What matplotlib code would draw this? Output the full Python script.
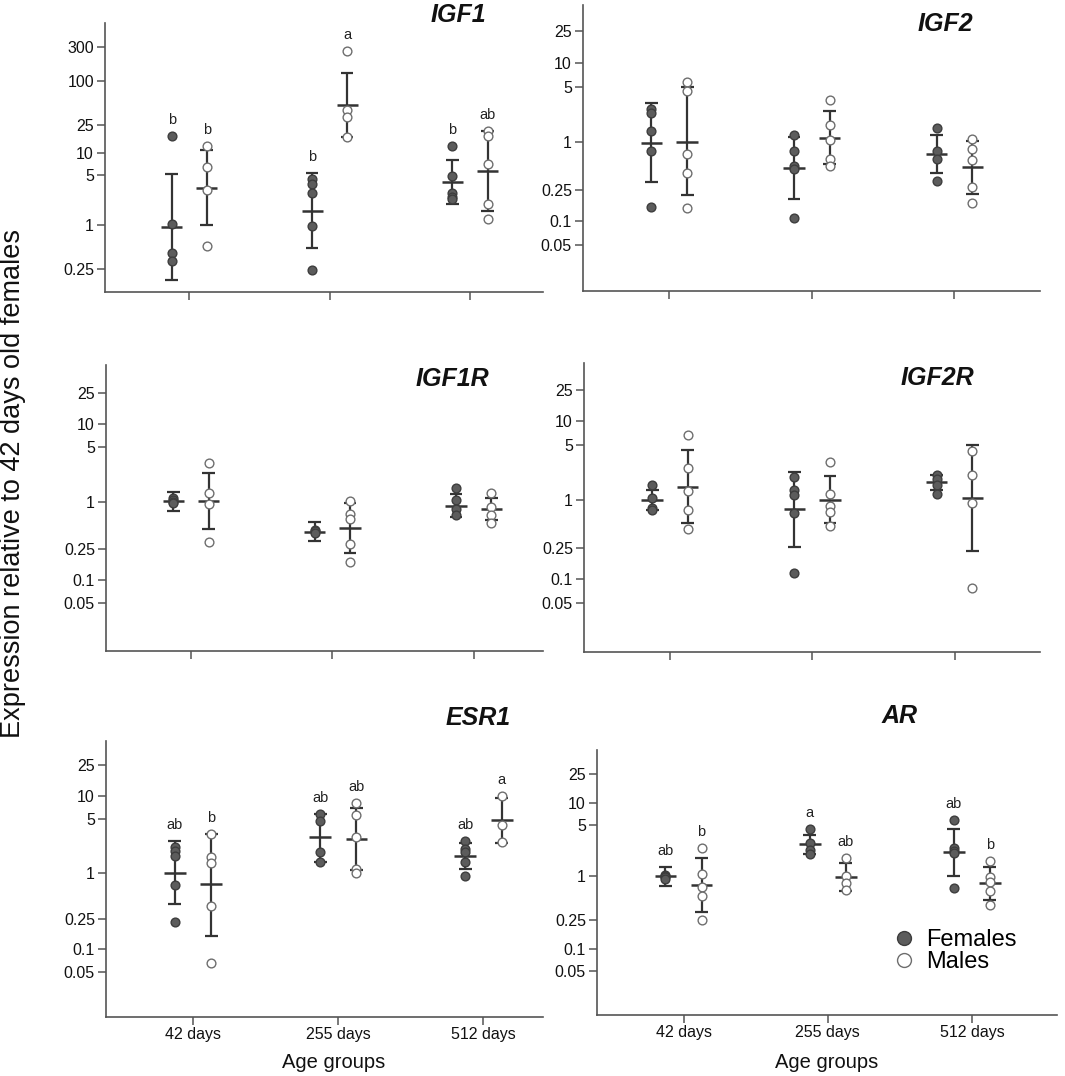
import numpy as np
import matplotlib
matplotlib.use('Agg')
import matplotlib.pyplot as plt
from matplotlib.lines import Line2D
from matplotlib.ticker import FixedLocator, NullLocator

plt.rcParams['font.family'] = ['Liberation Sans', 'DejaVu Sans']

ages = ['42 days', '255 days', '512 days']

# ---- IGF1 ----
igf1_fem_pts = [[17.4, 1.05, 0.42, 0.32], [4.4, 3.8, 2.8, 0.98, 0.24], [12.6, 4.9, 2.8, 2.5, 2.3]]
igf1_fem_mean = [0.95, 1.6, 4.0]
igf1_fem_lo = [0.176, 0.48, 1.98]
igf1_fem_hi = [5.2, 5.4, 8.1]
igf1_male_pts = [[12.6, 6.4, 3.1, 0.51], [264, 40, 32, 16.9], [20.6, 17.4, 7.1, 2.0, 1.21]]
igf1_male_mean = [3.3, 47, 5.7]
igf1_male_lo = [1.0, 16.9, 1.6]
igf1_male_hi = [11, 132, 20.6]
igf1_fem_letters = ['b', 'b', 'b']
igf1_male_letters = ['b', 'a', 'ab']

# ---- IGF2 ----
igf2_fem_pts = [[2.6, 2.3, 1.38, 0.77, 0.15], [1.23, 0.77, 0.50, 0.46, 0.11], [1.49, 0.77, 0.61, 0.32]]
igf2_fem_mean = [0.98, 0.47, 0.70]
igf2_fem_lo = [0.31, 0.19, 0.41]
igf2_fem_hi = [3.15, 1.16, 1.21]
igf2_male_pts = [[5.8, 4.47, 0.70, 0.40, 0.145], [3.4, 1.64, 1.05, 0.61, 0.50], [1.08, 0.81, 0.59, 0.27, 0.17]]
igf2_male_mean = [1.0, 1.13, 0.48]
igf2_male_lo = [0.21, 0.52, 0.22]
igf2_male_hi = [4.9, 2.44, 1.02]

# ---- IGF1R ----
igf1r_fem_pts = [[1.11, 1.05, 1.0, 0.96], [0.44, 0.42, 0.40], [1.50, 1.06, 0.81, 0.68]]
igf1r_fem_mean = [1.02, 0.41, 0.90]
igf1r_fem_lo = [0.77, 0.32, 0.65]
igf1r_fem_hi = [1.33, 0.55, 1.28]
igf1r_male_pts = [[3.2, 1.29, 0.94, 0.31], [1.02, 0.71, 0.61, 0.29, 0.17], [1.29, 0.87, 0.68, 0.53]]
igf1r_male_mean = [1.04, 0.46, 0.81]
igf1r_male_lo = [0.45, 0.22, 0.58]
igf1r_male_hi = [2.38, 0.96, 1.13]

# ---- IGF2R ----
igf2r_fem_pts = [[1.56, 1.08, 0.81, 0.75], [2.0, 1.35, 1.18, 0.70, 0.12], [2.07, 1.88, 1.56, 1.2]]
igf2r_fem_mean = [1.0, 0.78, 1.69]
igf2r_fem_lo = [0.75, 0.26, 1.35]
igf2r_fem_hi = [1.35, 2.3, 2.07]
igf2r_male_pts = [[6.8, 2.54, 1.33, 0.75, 0.43], [3.1, 1.2, 0.86, 0.72, 0.47], [4.25, 2.07, 0.93, 0.078]]
igf2r_male_mean = [1.49, 1.02, 1.08]
igf2r_male_lo = [0.51, 0.51, 0.226]
igf2r_male_hi = [4.34, 2.05, 5.0]

# ---- ESR1 ----
esr1_fem_pts = [[2.14, 1.9, 1.65, 0.68, 0.23], [5.8, 4.7, 1.88, 1.38], [2.61, 2.06, 1.86, 1.39, 0.91]]
esr1_fem_mean = [1.0, 2.89, 1.65]
esr1_fem_lo = [0.39, 1.38, 1.12]
esr1_fem_hi = [2.59, 5.8, 2.46]
esr1_male_pts = [[3.2, 1.58, 1.35, 0.37, 0.066], [8.2, 5.6, 2.89, 1.13, 0.98], [10, 4.14, 2.51]]
esr1_male_mean = [0.70, 2.75, 4.8]
esr1_male_lo = [0.15, 1.07, 2.46]
esr1_male_hi = [3.2, 7.0, 9.4]
esr1_fem_letters = ['ab', 'ab', 'ab']
esr1_male_letters = ['b', 'ab', 'a']

# ---- AR ----
ar_fem_pts = [[1.03, 1.0, 0.97, 0.93], [4.4, 2.83, 2.3, 2.0], [5.9, 2.42, 2.25, 2.07, 0.69]]
ar_fem_mean = [1.0, 2.77, 2.13]
ar_fem_lo = [0.74, 2.0, 1.0]
ar_fem_hi = [1.34, 3.72, 4.5]
ar_male_pts = [[2.47, 1.08, 0.72, 0.54, 0.25], [1.78, 1.0, 0.80, 0.65], [1.64, 0.97, 0.85, 0.64, 0.41]]
ar_male_mean = [0.76, 0.99, 0.80]
ar_male_lo = [0.33, 0.64, 0.48]
ar_male_hi = [1.78, 1.51, 1.36]
ar_fem_letters = ['ab', 'a', 'ab']
ar_male_letters = ['b', 'ab', 'b']

yticks_small = [0.05, 0.1, 0.25, 1, 5, 10, 25]
yticks_igf1 = [0.25, 1, 5, 10, 25, 100, 300]

W, H = 1065, 1076
fig = plt.figure(figsize=(W / 100, H / 100), dpi=100)

axis_col = '#555555'
bar_col = '#333333'
fem_face, fem_edge = '#5c5c5c', '#3d3d3d'
male_face, male_edge = 'white', '#6e6e6e'


def px_axes(l, r, t, b):
    return fig.add_axes([l / W, 1 - b / H, (r - l) / W, (b - t) / H])


def fmt(v):
    return f'{v:g}'


def draw_group(ax, xs, pts_list, mean, lo, hi, face, edge, letters):
    ax.vlines(xs, lo, hi, color=bar_col, lw=1.6, zorder=2)
    ax.hlines(lo, xs - 0.045, xs + 0.045, color=bar_col, lw=1.6, zorder=2)
    ax.hlines(hi, xs - 0.045, xs + 0.045, color=bar_col, lw=1.6, zorder=2)
    ax.hlines(mean, xs - 0.075, xs + 0.075, color=bar_col, lw=1.8, zorder=2)
    for x, pts in zip(xs, pts_list):
        ax.plot(np.full(len(pts), x), pts, 'o', ms=6.3, mfc=face, mec=edge,
                mew=1.0, zorder=3)
    if letters:
        for x, let, pts, h in zip(xs, letters, pts_list, hi):
            top = max(max(pts), h)
            ax.annotate(let, (x, top), xytext=(0, 11.5), textcoords='offset points',
                        ha='center', va='center', fontsize=10.5, color='#222222')


def panel(box, xlim, ylim, yticks, fem, male, fem_letters=None, male_letters=None,
          xlabels=False):
    ax = px_axes(*box)
    pos = np.arange(1, 4)
    draw_group(ax, pos - 0.125, *fem, fem_face, fem_edge, fem_letters)
    draw_group(ax, pos + 0.125, *male, male_face, male_edge, male_letters)
    ax.set_yscale('log')
    ax.set_xlim(*xlim)
    ax.set_ylim(*ylim)
    ax.yaxis.set_major_locator(FixedLocator(yticks))
    ax.yaxis.set_minor_locator(NullLocator())
    ax.set_yticklabels([fmt(v) for v in yticks])
    ax.set_xticks(pos)
    ax.set_xticklabels(ages if xlabels else ['', '', ''])
    for s in ['top', 'right']:
        ax.spines[s].set_visible(False)
    for s in ['left', 'bottom']:
        ax.spines[s].set_color(axis_col)
        ax.spines[s].set_linewidth(1.2)
    ax.tick_params(direction='out', length=6, width=1.1, color=axis_col,
                   labelsize=11.5, pad=2, labelcolor='#111111')
    ax.tick_params(axis='x', pad=1)
    return ax


ax1 = panel((105, 543, 23, 292), (0.40, 3.52), (0.119, 646), yticks_igf1,
            (igf1_fem_pts, igf1_fem_mean, igf1_fem_lo, igf1_fem_hi),
            (igf1_male_pts, igf1_male_mean, igf1_male_lo, igf1_male_hi),
            igf1_fem_letters, igf1_male_letters)
ax2 = panel((583, 1040, 5, 291), (0.395, 3.6), (0.013, 54), yticks_small,
            (igf2_fem_pts, igf2_fem_mean, igf2_fem_lo, igf2_fem_hi),
            (igf2_male_pts, igf2_male_mean, igf2_male_lo, igf2_male_hi))
ax3 = panel((106, 543, 365, 651), (0.40, 3.49), (0.0123, 57), yticks_small,
            (igf1r_fem_pts, igf1r_fem_mean, igf1r_fem_lo, igf1r_fem_hi),
            (igf1r_male_pts, igf1r_male_mean, igf1r_male_lo, igf1r_male_hi))
ax4 = panel((584, 1040, 363, 652), (0.396, 3.6), (0.012, 55), yticks_small,
            (igf2r_fem_pts, igf2r_fem_mean, igf2r_fem_lo, igf2r_fem_hi),
            (igf2r_male_pts, igf2r_male_mean, igf2r_male_lo, igf2r_male_hi))
ax5 = panel((106, 543, 741, 1017), (0.40, 3.41), (0.0131, 52), yticks_small,
            (esr1_fem_pts, esr1_fem_mean, esr1_fem_lo, esr1_fem_hi),
            (esr1_male_pts, esr1_male_mean, esr1_male_lo, esr1_male_hi),
            esr1_fem_letters, esr1_male_letters, xlabels=True)
ax6 = panel((597, 1057, 750, 1015), (0.40, 3.59), (0.0126, 54), yticks_small,
            (ar_fem_pts, ar_fem_mean, ar_fem_lo, ar_fem_hi),
            (ar_male_pts, ar_male_mean, ar_male_lo, ar_male_hi),
            ar_fem_letters, ar_male_letters, xlabels=True)

# gene titles
titles = [('IGF1', 458, 15), ('IGF2', 945, 24), ('IGF1R', 452, 379),
          ('IGF2R', 937, 378), ('ESR1', 478, 718), ('AR', 900, 716)]
for name, tx, ty in titles:
    fig.text(tx / W, 1 - ty / H, name, fontsize=18, fontweight='bold',
             fontstyle='italic', ha='center', va='center', color='#111111')

fig.text(13 / W, 1 - 484 / H, 'Expression relative to 42 days old females',
         rotation=90, fontsize=19.5, ha='center', va='center', color='#111111')
fig.text(334 / W, 1 - 1062 / H, 'Age groups', fontsize=14.5, ha='center',
         va='center', color='#111111')
fig.text(827 / W, 1 - 1062 / H, 'Age groups', fontsize=14.5, ha='center',
         va='center', color='#111111')

handles = [Line2D([], [], ls='', marker='o', ms=10, mfc=fem_face, mec=fem_edge, mew=1.0),
           Line2D([], [], ls='', marker='o', ms=10, mfc=male_face, mec=male_edge, mew=1.0)]
ax6.legend(handles, ['Females', 'Males'], loc='upper left', frameon=False,
           bbox_to_anchor=(895 / W, 1 - 929 / H), bbox_transform=fig.transFigure,
           fontsize=17, handlelength=0.8, handletextpad=0.5, labelspacing=0.0,
           borderpad=0, borderaxespad=0)

fig.savefig('out.png', dpi=100)
